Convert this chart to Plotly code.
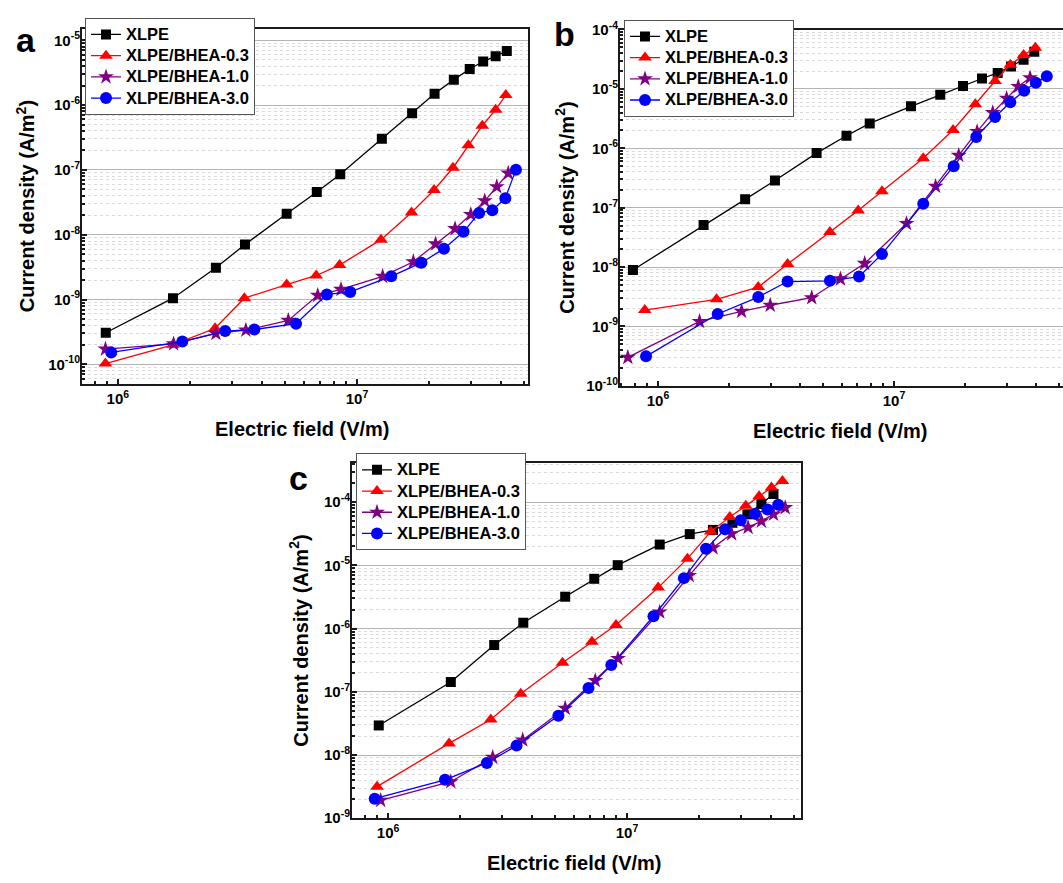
import plotly.graph_objects as go

# ---------------- data ----------------
names = ["XLPE", "XLPE/BHEA-0.3", "XLPE/BHEA-1.0", "XLPE/BHEA-3.0"]

# Panel a
a_xlpe_E = [8.9e5, 1.70e6, 2.57e6, 3.40e6, 5.08e6, 6.79e6, 8.51e6, 1.27e7, 1.70e7, 2.11e7, 2.54e7, 2.96e7, 3.37e7, 3.80e7, 4.23e7]
a_xlpe_J = [3.07e-10, 1.05e-9, 3.1e-9, 7.06e-9, 2.1e-8, 4.55e-8, 8.6e-8, 3.03e-7, 7.5e-7, 1.5e-6, 2.47e-6, 3.6e-6, 4.7e-6, 5.67e-6, 6.83e-6]
a_b03_E = [8.87e5, 1.70e6, 2.55e6, 3.38e6, 5.08e6, 6.75e6, 8.45e6, 1.26e7, 1.69e7, 2.10e7, 2.52e7, 2.92e7, 3.34e7, 3.80e7, 4.19e7]
a_b03_J = [1.03e-10, 2.0e-10, 3.6e-10, 1.05e-9, 1.70e-9, 2.35e-9, 3.4e-9, 8.4e-9, 2.2e-8, 4.9e-8, 1.08e-7, 2.4e-7, 4.8e-7, 8.5e-7, 1.43e-6]
a_b10_E = [8.87e5, 1.71e6, 2.57e6, 3.43e6, 5.16e6, 6.85e6, 8.57e6, 1.28e7, 1.72e7, 2.13e7, 2.57e7, 2.99e7, 3.42e7, 3.84e7, 4.29e7]
a_b10_J = [1.72e-10, 2.07e-10, 3.0e-10, 3.37e-10, 4.76e-10, 1.16e-9, 1.43e-9, 2.28e-9, 3.83e-9, 7.2e-9, 1.24e-8, 2.05e-8, 3.33e-8, 5.5e-8, 8.9e-8]
a_b30_E = [9.38e5, 1.86e6, 2.81e6, 3.72e6, 5.56e6, 7.48e6, 9.37e6, 1.39e7, 1.86e7, 2.31e7, 2.79e7, 3.24e7, 3.68e7, 4.17e7, 4.62e7]
a_b30_J = [1.53e-10, 2.25e-10, 3.26e-10, 3.45e-10, 4.25e-10, 1.2e-9, 1.31e-9, 2.28e-9, 3.7e-9, 6.1e-9, 1.11e-8, 2.17e-8, 2.38e-8, 3.66e-8, 1.01e-7]

# Panel b
b_xlpe_E = [7.83e5, 1.56e6, 2.34e6, 3.13e6, 4.70e6, 6.29e6, 7.89e6, 1.18e7, 1.57e7, 1.96e7, 2.36e7, 2.75e7, 3.13e7, 3.54e7, 3.93e7]
b_xlpe_J = [8.9e-9, 5.1e-8, 1.38e-7, 2.87e-7, 8.3e-7, 1.63e-6, 2.63e-6, 5.1e-6, 7.98e-6, 1.12e-5, 1.50e-5, 1.86e-5, 2.4e-5, 3.1e-5, 4.23e-5]
b_b03_E = [8.79e5, 1.77e6, 2.66e6, 3.54e6, 5.35e6, 7.05e6, 8.89e6, 1.33e7, 1.78e7, 2.21e7, 2.68e7, 3.11e7, 3.54e7, 3.97e7]
b_b03_J = [1.88e-9, 2.86e-9, 4.6e-9, 1.12e-8, 3.9e-8, 9.0e-8, 1.9e-7, 6.8e-7, 2.04e-6, 5.5e-6, 1.36e-5, 2.55e-5, 3.73e-5, 4.93e-5]
b_b10_E = [7.45e5, 1.50e6, 2.26e6, 2.99e6, 4.48e6, 5.93e6, 7.51e6, 1.13e7, 1.50e7, 1.88e7, 2.25e7, 2.62e7, 3.0e7, 3.36e7, 3.77e7]
b_b10_J = [3.0e-10, 1.21e-9, 1.79e-9, 2.27e-9, 3.04e-9, 6.3e-9, 1.15e-8, 5.4e-8, 2.29e-7, 7.6e-7, 1.91e-6, 3.98e-6, 6.95e-6, 1.1e-5, 1.54e-5]
b_b30_E = [8.9e5, 1.79e6, 2.66e6, 3.54e6, 5.35e6, 7.11e6, 8.89e6, 1.33e7, 1.79e7, 2.23e7, 2.68e7, 3.11e7, 3.56e7, 3.99e7, 4.44e7]
b_b30_J = [3.13e-10, 1.62e-9, 3.12e-9, 5.7e-9, 5.86e-9, 6.9e-9, 1.65e-8, 1.16e-7, 5.0e-7, 1.55e-6, 3.38e-6, 5.97e-6, 9.3e-6, 1.27e-5, 1.64e-5]

# Panel c
c_xlpe_E = [9.14e5, 1.83e6, 2.78e6, 3.68e6, 5.51e6, 7.29e6, 9.14e6, 1.37e7, 1.83e7, 2.29e7, 2.76e7, 3.19e7, 3.65e7, 4.10e7]
c_xlpe_J = [2.94e-8, 1.43e-7, 5.5e-7, 1.24e-6, 3.2e-6, 6.15e-6, 1.01e-5, 2.14e-5, 3.13e-5, 3.65e-5, 4.73e-5, 6.44e-5, 9.4e-5, 1.35e-4]
c_b03_E = [8.99e5, 1.80e6, 2.69e6, 3.59e6, 5.37e6, 7.13e6, 8.99e6, 1.35e7, 1.79e7, 2.24e7, 2.69e7, 3.14e7, 3.57e7, 4.02e7, 4.47e7]
c_b03_J = [3.16e-9, 1.53e-8, 3.65e-8, 9.3e-8, 2.88e-7, 6.2e-7, 1.14e-6, 4.46e-6, 1.28e-5, 3.43e-5, 5.86e-5, 8.77e-5, 1.24e-4, 1.71e-4, 2.16e-4]
c_b10_E = [9.31e5, 1.83e6, 2.74e6, 3.66e6, 5.51e6, 7.36e6, 9.16e6, 1.37e7, 1.82e7, 2.29e7, 2.74e7, 3.21e7, 3.65e7, 4.10e7, 4.59e7]
c_b10_J = [1.92e-9, 3.78e-9, 9.2e-9, 1.73e-8, 5.5e-8, 1.51e-7, 3.36e-7, 1.83e-6, 6.92e-6, 1.9e-5, 3.16e-5, 4.01e-5, 5.02e-5, 6.44e-5, 8.2e-5]
c_b30_E = [8.79e5, 1.73e6, 2.59e6, 3.45e6, 5.16e6, 6.90e6, 8.59e6, 1.29e7, 1.73e7, 2.14e7, 2.57e7, 2.99e7, 3.43e7, 3.87e7, 4.29e7]
c_b30_J = [2.04e-9, 4.06e-9, 7.5e-9, 1.41e-8, 4.2e-8, 1.15e-7, 2.65e-7, 1.57e-6, 6.3e-6, 1.83e-5, 3.73e-5, 5.2e-5, 6.6e-5, 7.7e-5, 9.1e-5]

panels = {
    "a": [(a_xlpe_E, a_xlpe_J), (a_b03_E, a_b03_J), (a_b10_E, a_b10_J), (a_b30_E, a_b30_J)],
    "b": [(b_xlpe_E, b_xlpe_J), (b_b03_E, b_b03_J), (b_b10_E, b_b10_J), (b_b30_E, b_b30_J)],
    "c": [(c_xlpe_E, c_xlpe_J), (c_b03_E, c_b03_J), (c_b10_E, c_b10_J), (c_b30_E, c_b30_J)],
}

# ---------------- styling ----------------
W, H = 1063, 883
FONT = "Liberation Sans, Arial, sans-serif"
colors = ["#000000", "#ff0000", "#800080", "#0000ff"]
symbols = ["square", "triangle-up", "star", "circle"]
msizes = [10, 12, 12, 12]

def px_x(p):
    return p / W

def px_y(p):
    return 1 - p / H

# plot-box pixel boxes (left, right, top, bottom) and log ranges
boxes = {
    "a": dict(l=82, r=528, t=18, b=381, xr=[5.85, 7.715], yr=[-10.3, -4.82], dec=range(-10, -4)),
    "b": dict(l=620, r=1063, t=19, b=383, xr=[5.839, 7.716], yr=[-10, -4], dec=range(-10, -3)),
    "c": dict(l=352, r=801, t=462, b=825, xr=[5.849, 7.728], yr=[-9, -3.38], dec=range(-9, -3)),
}
legend_pos = {"a": (85, 7), "b": (624, 9), "c": (356, 452)}
label_pos = {"a": (26, 30), "b": (564, 24), "c": (298, 477)}
ytitle_x = {"a": 25, "b": 565, "c": 299}
xtitle_x = {"a": 302, "b": 840, "c": 574}

fig = go.Figure()
layout = dict(
    width=W, height=H,
    margin=dict(l=0, r=0, t=0, b=0),
    paper_bgcolor="white", plot_bgcolor="white",
    font=dict(family=FONT, size=16, color="black"),
    showlegend=True,
)
annotations = []

for i, key in enumerate(["a", "b", "c"]):
    bx = boxes[key]
    suffix = "" if i == 0 else str(i + 1)
    xa, ya = "x" + suffix, "y" + suffix
    lg = "legend" + suffix
    for s, (E, J) in enumerate(panels[key]):
        fig.add_trace(go.Scatter(
            x=E, y=J, xaxis=xa, yaxis=ya, legend=lg,
            mode="lines+markers",
            name='<span style="font-size:16.5px">%s</span>' % names[s],
            line=dict(color=colors[s], width=1.3),
            marker=dict(symbol=symbols[s], size=msizes[s], color=colors[s],
                        line=dict(width=0)),
        ))
    dec = list(bx["dec"])
    major_vals = [10.0 ** d for d in dec]
    major_text = ["10<sup>%d</sup>" % d for d in dec]
    minor_vals = [m * 10.0 ** d for d in range(dec[0] - 1, dec[-1] + 1) for m in range(2, 10)]
    xmajor = [10.0 ** d for d in range(5, 9)]
    xtext = ["10<sup>%d</sup>" % d for d in range(5, 9)]
    xminor = [m * 10.0 ** d for d in range(5, 8) for m in range(2, 10)]
    layout["xaxis" + suffix] = dict(
        type="log", range=bx["xr"], domain=[px_x(bx["l"]), px_x(bx["r"])],
        anchor=ya, showline=True, linecolor="#1a1a1a", linewidth=2, mirror=True,
        ticks="inside", ticklen=5, tickwidth=1.5, tickcolor="#1a1a1a",
        tickmode="array", tickvals=xmajor, ticktext=xtext,
        tickfont=dict(family=FONT, size=15, weight="bold"),
        showgrid=False, zeroline=False,
        minor=dict(tickmode="array", tickvals=xminor, ticks="inside", ticklen=3,
                   tickcolor="#1a1a1a", showgrid=False),
    )
    layout["yaxis" + suffix] = dict(
        type="log", range=bx["yr"], domain=[px_y(bx["b"]), px_y(bx["t"])],
        anchor=xa, showline=True, linecolor="#1a1a1a", linewidth=2,
        mirror=(key != "b"),
        ticks="inside", ticklen=5, tickwidth=1.5, tickcolor="#1a1a1a",
        tickmode="array", tickvals=major_vals, ticktext=major_text,
        tickfont=dict(family=FONT, size=15, weight="bold"),
        ticklabelstandoff=-3,
        showgrid=True, gridcolor="#b4b4b4", gridwidth=1.3, zeroline=False,
        minor=dict(tickmode="array", tickvals=minor_vals, ticks="inside", ticklen=3,
                   tickcolor="#1a1a1a", showgrid=True, gridcolor="#dadada",
                   griddash="dot", gridwidth=1),
    )
    lx, ly = legend_pos[key]
    layout[lg] = dict(
        x=px_x(lx), y=px_y(ly), xanchor="left", yanchor="top",
        xref="paper", yref="paper",
        bgcolor="white", bordercolor="#555555", borderwidth=1,
        font=dict(family=FONT, size=14, weight="bold", color="black"),
        tracegroupgap=0, itemsizing="trace",
    )
    # panel label
    annotations.append(dict(
        text="<b>%s</b>" % key, x=px_x(label_pos[key][0]), y=px_y(label_pos[key][1]),
        xref="paper", yref="paper", showarrow=False, xanchor="center", yanchor="middle",
        font=dict(family=FONT, size=34, color="black"),
    ))
    # axis titles
    annotations.append(dict(
        text="<b>Electric field (V/m)</b>", x=px_x(xtitle_x[key]),
        y=px_y(bx["b"] + 46), xref="paper", yref="paper", showarrow=False,
        xanchor="center", yanchor="middle", font=dict(family=FONT, size=20, color="black"),
    ))
    annotations.append(dict(
        text="<b>Current density (A/m<sup>2</sup>)</b>", x=px_x(ytitle_x[key]),
        y=px_y((bx["t"] + bx["b"]) / 2), xref="paper", yref="paper", showarrow=False,
        textangle=-90, xanchor="center", yanchor="middle",
        font=dict(family=FONT, size=20, color="black"),
    ))

layout["annotations"] = annotations
fig.update_layout(**layout)
fig.write_html("out.html")
